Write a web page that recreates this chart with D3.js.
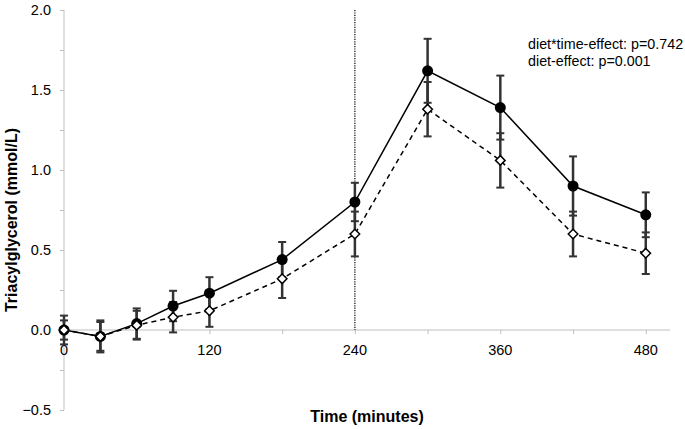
<!DOCTYPE html>
<html><head><meta charset="utf-8">
<script src="https://cdn.jsdelivr.net/npm/d3@7"></script>
<style>body{margin:0;background:#fff}svg{display:block;font-family:"Liberation Sans",Arial,sans-serif}</style>
</head><body>
<svg id="c" width="685" height="429"></svg>
<script>
const times = [0,30,60,90,120,180,240,300,360,420,480];
const dietA = [0.00,-0.04,0.04,0.15,0.23,0.44,0.80,1.62,1.39,0.90,0.72];
const dietAErr = [0.09,0.09,0.095,0.095,0.10,0.11,0.12,0.20,0.20,0.185,0.14];
const dietB = [0.00,-0.04,0.03,0.08,0.12,0.32,0.60,1.38,1.06,0.60,0.48];
const dietBErr = [0.06,0.10,0.09,0.095,0.10,0.12,0.14,0.17,0.17,0.14,0.13];
const yTickLabels = [-0.5,0.0,0.5,1.0,1.5,2.0];
const yMinorTicks = [-0.5,-0.25,0,0.25,0.5,0.75,1.0,1.25,1.5,1.75,2.0];
const xTickLabels = [0,120,240,360,480];
const xMinorTicks = [60,120,180,240,300,360,420,480];
const annotations = ["diet*time-effect: p=0.742","diet-effect: p=0.001"];

const svg = d3.select("#c");
const x = d3.scaleLinear().domain([0,500]).range([64,670]);
const y = d3.scaleLinear().domain([-0.5,2.0]).range([410,10]);
const axisColor = "#bfbfbf";

// Y axis
const yAxis = svg.append("g").attr("transform",`translate(${x(0)},0)`)
  .call(d3.axisLeft(y).tickValues(yMinorTicks).tickSize(4).tickFormat(""));
yAxis.select(".domain").attr("stroke",axisColor).attr("d",`M0,${y(2)}V${y(-0.5)}`);
yAxis.selectAll(".tick line").attr("stroke",axisColor);
svg.append("g").selectAll("text").data(yTickLabels).join("text")
  .attr("x",51).attr("y",d=>y(d)).attr("dy","0.35em").attr("text-anchor","end")
  .attr("font-size",14.5).attr("fill","#000").text(d=>d3.format(".1f")(d));

// X axis
const xAxis = svg.append("g").attr("transform",`translate(0,${y(0)})`)
  .call(d3.axisBottom(x).tickValues(xMinorTicks).tickSize(4).tickFormat(""));
xAxis.select(".domain").attr("stroke",axisColor).attr("d",`M${x(0)},0H${x(500)}`);
xAxis.selectAll(".tick line").attr("stroke",axisColor);
svg.append("g").selectAll("text").data(xTickLabels).join("text")
  .attr("x",d=>x(d)).attr("y",y(0)+25).attr("text-anchor","middle")
  .attr("font-size",14.5).attr("fill","#000").text(d=>d);

// vertical dotted line at 240
svg.append("line").attr("x1",x(240)).attr("x2",x(240)).attr("y1",y(2)).attr("y2",y(0))
  .attr("stroke","#000").attr("stroke-width",1.2).attr("stroke-dasharray","1.2,1.2");

// axis titles
svg.append("text").attr("x",(x(0)+x(500))/2).attr("y",422).attr("text-anchor","middle")
  .attr("font-size",16).attr("font-weight","bold").text("Time (minutes)");
svg.append("text").attr("transform",`translate(17,220) rotate(-90)`).attr("text-anchor","middle")
  .attr("font-size",16).attr("font-weight","bold").text("Triacylglycerol (mmol/L)");

// annotations
svg.append("g").selectAll("text").data(annotations).join("text")
  .attr("x",528).attr("y",(d,i)=>49+i*16.5).attr("font-size",14.3).attr("fill","#000").text(d=>d);

const seriesA = times.map((t,i)=>({t,v:dietA[i],e:dietAErr[i]}));
const seriesB = times.map((t,i)=>({t,v:dietB[i],e:dietBErr[i]}));

function errBars(data){
  const g = svg.append("g").attr("stroke","#333").attr("stroke-width",2.5);
  g.selectAll("line.v").data(data).join("line").attr("class","v")
    .attr("x1",d=>x(d.t)).attr("x2",d=>x(d.t)).attr("y1",d=>y(d.v-d.e)).attr("y2",d=>y(d.v+d.e));
  g.selectAll("line.t").data(data).join("line").attr("class","t")
    .attr("x1",d=>x(d.t)-4).attr("x2",d=>x(d.t)+4).attr("y1",d=>y(d.v+d.e)).attr("y2",d=>y(d.v+d.e)).attr("stroke-width",2);
  g.selectAll("line.b").data(data).join("line").attr("class","b")
    .attr("x1",d=>x(d.t)-4).attr("x2",d=>x(d.t)+4).attr("y1",d=>y(d.v-d.e)).attr("y2",d=>y(d.v-d.e)).attr("stroke-width",2);
}
errBars(seriesB);
errBars(seriesA);

const line = d3.line().x(d=>x(d.t)).y(d=>y(d.v));
svg.append("path").datum(seriesB).attr("d",line).attr("fill","none").attr("stroke","#000")
  .attr("stroke-width",1.5).attr("stroke-dasharray","5,4");
svg.append("path").datum(seriesA).attr("d",line).attr("fill","none").attr("stroke","#000")
  .attr("stroke-width",1.5);

svg.append("g").selectAll("circle").data(seriesA).join("circle")
  .attr("cx",d=>x(d.t)).attr("cy",d=>y(d.v)).attr("r",5.5).attr("fill","#000");
const diamond = d3.symbol().type(d3.symbolDiamond2).size(58);
svg.append("g").selectAll("path").data(seriesB).join("path")
  .attr("transform",d=>`translate(${x(d.t)},${y(d.v)})`).attr("d",diamond)
  .attr("fill","#fff").attr("stroke","#000").attr("stroke-width",1.5);
</script>
</body></html>
